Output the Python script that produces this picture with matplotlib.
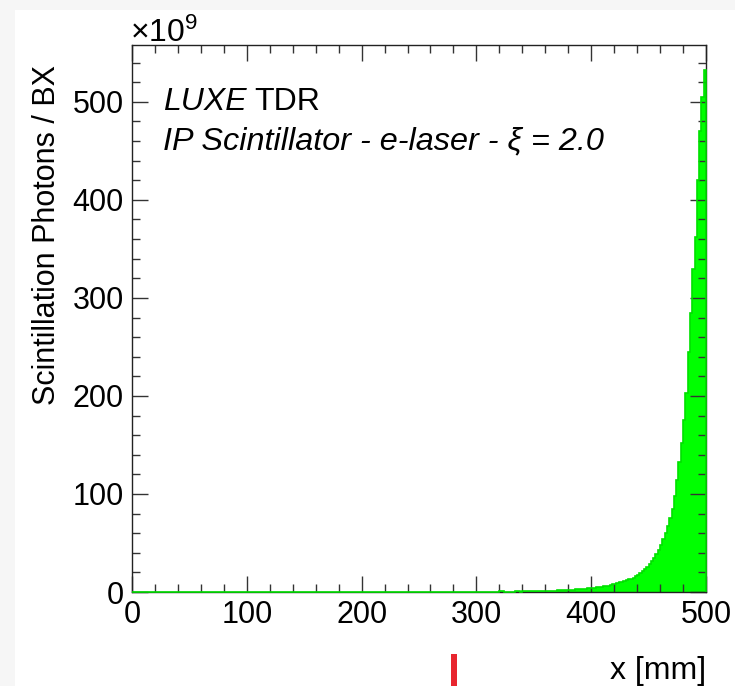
import numpy as np
import matplotlib
matplotlib.use("Agg")
import matplotlib.pyplot as plt
from matplotlib.ticker import MultipleLocator
from matplotlib.patches import Rectangle

plt.rcParams['font.family'] = ['Liberation Sans', 'DejaVu Sans']
plt.rcParams['mathtext.fontset'] = 'custom'
plt.rcParams['mathtext.rm'] = 'Liberation Sans'
plt.rcParams['mathtext.it'] = 'Liberation Sans:italic'

# histogram: 2 mm bins, bins below 320 mm are empty
bin_width = 2
x_min, x_max = 0, 500
first_filled = 320
# scintillation photons per bin, units of 1e9, bins from 320 mm upward
photons_1e9 = [
    0.6, 0.6, 0.2, 0.2, 0.2, 0.3, 0.3, 1.0, 0.8, 0.5,      # 320-340
    0.8, 0.8, 0.9, 0.9, 1.0, 1.0, 1.1, 1.1, 1.2, 1.2,      # 340-360
    1.3, 1.3, 1.4, 1.4, 1.5, 1.6, 1.7, 1.8, 1.9, 2.0,      # 360-380
    2.1, 2.3, 2.5, 2.6, 2.8, 3.0, 3.2, 3.4, 3.6, 3.9,      # 380-400
    4.2, 4.4, 4.8, 5.1, 5.4, 5.8, 6.2, 6.6, 7.1, 7.8,      # 400-420
    8.5, 9.1, 9.8, 10.5, 11.2, 12.0, 12.8, 13.6, 14.5, 16.0,   # 420-440
    17.5, 19.0, 21.0, 23.5, 26.0, 28.5, 31.5, 35.0, 38.5, 43.0,  # 440-460
    48.0, 54.0, 60.0, 67.0, 75.0, 85.0, 98.0, 114.0, 133.0, 152.0,  # 460-480
    175.0, 203.0, 245.0, 285.0, 330.0, 362.0, 420.0, 470.0, 505.0, 533.0,  # 480-500
]

edges = np.arange(x_min, x_max + bin_width, bin_width)
values = np.zeros(len(edges) - 1)
i0 = (first_filled - x_min) // bin_width
values[i0:i0 + len(photons_1e9)] = photons_1e9

W, H = 735, 686
fig = plt.figure(figsize=(W / 100, H / 100), dpi=100)
fig.patch.set_facecolor('#f6f6f6')
fig.patches.append(Rectangle((15 / W, 0), 1 - 15 / W, 1 - 10 / H,
                             transform=fig.transFigure, facecolor='white',
                             edgecolor='none', zorder=-5))

ax = fig.add_axes([132 / W, 1 - 592 / H, (706 - 132) / W, (592 - 45) / H])
ax.patch.set_alpha(0)
green = '#00ff00'
ax.stairs(values, edges, fill=True, color=green, zorder=1)
# histogram outline drawn above the frame, as ROOT does
ax.stairs(values, edges, color='#00e000', lw=1.2, zorder=2.6, clip_on=False)

ax.set_xlim(x_min, x_max)
ax.set_ylim(0, 558)
ax.xaxis.set_major_locator(MultipleLocator(100))
ax.xaxis.set_minor_locator(MultipleLocator(20))
ax.yaxis.set_major_locator(MultipleLocator(100))
ax.yaxis.set_minor_locator(MultipleLocator(20))
ax.tick_params(which='both', direction='in', top=True, right=True,
               labelsize=22, color='#333333', width=1)
ax.tick_params(which='major', length=11.5, pad=6)
ax.tick_params(which='minor', length=5.8)
for s in ax.spines.values():
    s.set_color('#222222')
    s.set_linewidth(1)

fig.text(130 / W, 1 - 42 / H, r'$\times10^{9}$', fontsize=23, ha='left', va='baseline')
fig.text(47 / W, 1 - 65 / H, 'Scintillation Photons / BX', fontsize=22,
         rotation=90, ha='center', va='top')
fig.text(706 / W, 1 - 671 / H, 'x [mm]', fontsize=23, ha='right', va='center')

t = fig.text(163 / W, 1 - 110 / H, 'LUXE', fontsize=23, style='italic',
             ha='left', va='baseline')
fig.canvas.draw()
bb = t.get_window_extent()
fig.text(bb.x1 / W + 8 / W, 1 - 110 / H, 'TDR', fontsize=23, ha='left', va='baseline')
fig.text(163 / W, 1 - 149 / H, 'IP Scintillator - e-laser - ξ = 2.0', fontsize=23.3,
         style='italic', ha='left', va='baseline')

# red marker below the axis
fig.patches.append(Rectangle((451 / W, 0), 6 / W, 32 / H, transform=fig.transFigure,
                             facecolor='#e8262f', edgecolor='none', zorder=3))

fig.savefig('out.png', dpi=100)
